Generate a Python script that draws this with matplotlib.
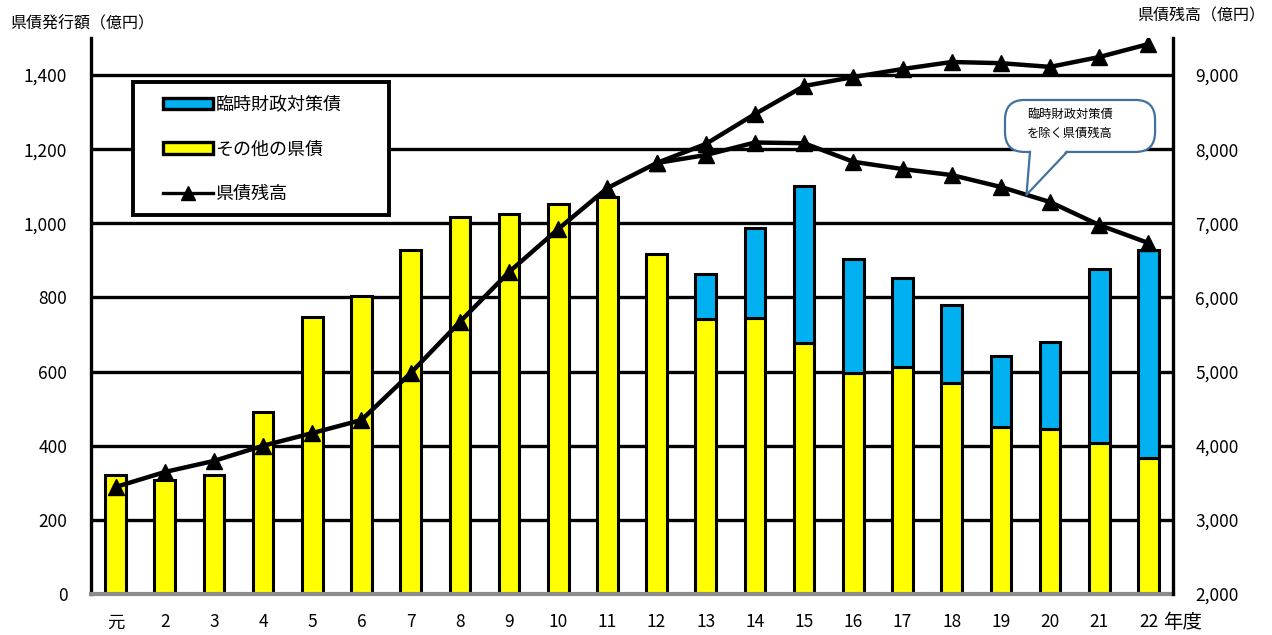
import matplotlib
matplotlib.use('Agg')
import numpy as np
import matplotlib.pyplot as plt
from matplotlib.patches import Patch, Rectangle, FancyBboxPatch, Polygon
from matplotlib.lines import Line2D

plt.rcParams['font.family'] = ['Noto Sans CJK JP', 'DejaVu Sans']

# 年度
years = ['元', '2', '3', '4', '5', '6', '7', '8', '9', '10', '11',
         '12', '13', '14', '15', '16', '17', '18', '19', '20', '21', '22']

# 県債発行額（億円）
other_bonds = [320, 308, 321, 492, 747, 804, 928, 1017, 1025, 1052, 1071,
               917, 743, 744, 678, 596, 612, 568, 450, 445, 408, 366]
temp_bonds = [0, 0, 0, 0, 0, 0, 0, 0, 0, 0, 0,
              0, 120, 242, 422, 309, 241, 212, 192, 236, 469, 562]

# 県債残高（億円）
balance = [3443, 3645, 3795, 4000, 4170, 4347, 4980, 5670, 6343, 6923, 7476,
           7813, 8070, 8474, 8852, 8973, 9081, 9176, 9160, 9110, 9243, 9418]
# 臨時財政対策債を除く県債残高（12年度以降）
balance_excl = [7813, 7921, 8090, 8080, 7830, 7732, 7651, 7490, 7287, 6977, 6734]

yellow = '#FFFF00'
blue = '#00B0F0'
callout_edge = '#41719C'

x = np.arange(len(years))
other_bonds = np.array(other_bonds)
temp_bonds = np.array(temp_bonds)

fig = plt.figure(figsize=(12.72, 6.35), dpi=100)
ax = fig.add_axes([0.0715, 0.0646, 0.8507, 0.8756])

ax.bar(x, other_bonds, width=0.42, color=yellow, edgecolor='black', linewidth=2.2, zorder=2)
has_temp = temp_bonds > 0
ax.bar(x[has_temp], temp_bonds[has_temp], width=0.42, bottom=other_bonds[has_temp],
       color=blue, edgecolor='black', linewidth=2.2, zorder=2)

ax.set_xlim(-0.5, len(years) - 0.5)
ax.set_ylim(0, 1500)
ax.set_yticks(np.arange(0, 1401, 200))
ax.set_yticklabels([f'{v:,}' for v in range(0, 1401, 200)])
ax.set_xticks(x)
ax.set_xticklabels(years)
ax.yaxis.grid(True, color='black', linewidth=2.4)
ax.set_axisbelow(True)
ax.tick_params(axis='y', length=0, pad=17, labelsize=12.5)
ax.tick_params(axis='x', length=0, pad=14, labelsize=12.5)

for side in ['top', 'right']:
    ax.spines[side].set_visible(False)
ax.spines['left'].set_linewidth(2.4)
ax.spines['bottom'].set_color('#8C8C8C')
ax.spines['bottom'].set_linewidth(3)

ax2 = ax.twinx()
ax2.set_ylim(2000, 9500)
ax2.set_yticks(np.arange(2000, 9001, 1000))
ax2.set_yticklabels([f'{v:,}' for v in range(2000, 9001, 1000)])
ax2.tick_params(axis='y', length=0, pad=16, labelsize=12.5)
for side in ['top', 'left', 'bottom']:
    ax2.spines[side].set_visible(False)
ax2.spines['right'].set_linewidth(2.4)

ax2.plot(x, balance, color='black', linewidth=3.2, marker='^', markersize=11, zorder=3)
ax2.plot(x[11:], balance_excl, color='black', linewidth=3.2, marker='^', markersize=11, zorder=3)

# axis titles and unit label
fig.text(0.008, 0.962, '県債発行額（億円）', fontsize=11.5, ha='left', va='center')
fig.text(0.995, 0.975, '県債残高（億円）', fontsize=11.5, ha='right', va='center')
ax.annotate('年度', xy=(21.3, 0), xycoords=('data', 'axes fraction'),
            xytext=(0, -13), textcoords='offset points',
            ha='left', va='top', fontsize=14)

# callout: rounded box with a wedge pointing at the line excluding 臨時財政対策債
xi = 18.52
yi = np.interp(xi, x[11:], balance_excl)
tip = ax2.transAxes.inverted().transform(ax2.transData.transform((xi, yi)))
box = FancyBboxPatch((0.8447, 0.795), 0.1387, 0.0935,
                     boxstyle='round,pad=0,rounding_size=0.018',
                     transform=ax2.transAxes, fc='white', ec=callout_edge, lw=1.6,
                     mutation_aspect=2.0, zorder=6)
ax2.add_patch(box)
base_l, base_r, base_y = 0.8678, 0.902, 0.795
ax2.add_patch(Polygon([(base_l, base_y + 0.004), (base_r, base_y + 0.004), tuple(tip)],
                      closed=True, transform=ax2.transAxes, fc='white', ec='none', zorder=7))
ax2.add_line(Line2D([base_l, tip[0], base_r], [base_y, tip[1], base_y],
                    transform=ax2.transAxes, color=callout_edge, lw=1.6, zorder=8))
ax2.text(0.865, 0.845, '臨時財政対策債\nを除く県債残高', transform=ax2.transAxes,
         fontsize=8.8, ha='left', va='center', linespacing=1.55, zorder=9)

# legend with a hand-drawn frame
ax2.add_patch(Rectangle((0.0388, 0.6817), 0.2366, 0.2392, transform=ax2.transAxes,
                        fc='white', ec='black', lw=2.8, zorder=9))
handles = [Patch(facecolor=blue, edgecolor='black', linewidth=2.4),
           Patch(facecolor=yellow, edgecolor='black', linewidth=2.4),
           Line2D([], [], color='black', linewidth=2.4, marker='^', markersize=10)]
labels = ['臨時財政対策債', 'その他の県債', '県債残高']
leg = ax2.legend(handles, labels, loc='upper left', bbox_to_anchor=(0.0665, 0.8957),
                 fontsize=13, frameon=False,
                 handlelength=2.8, handleheight=0.6, handletextpad=0.1,
                 labelspacing=1.47, borderpad=0, borderaxespad=0)
leg.set_zorder(10)

fig.savefig('out.png', dpi=100)
